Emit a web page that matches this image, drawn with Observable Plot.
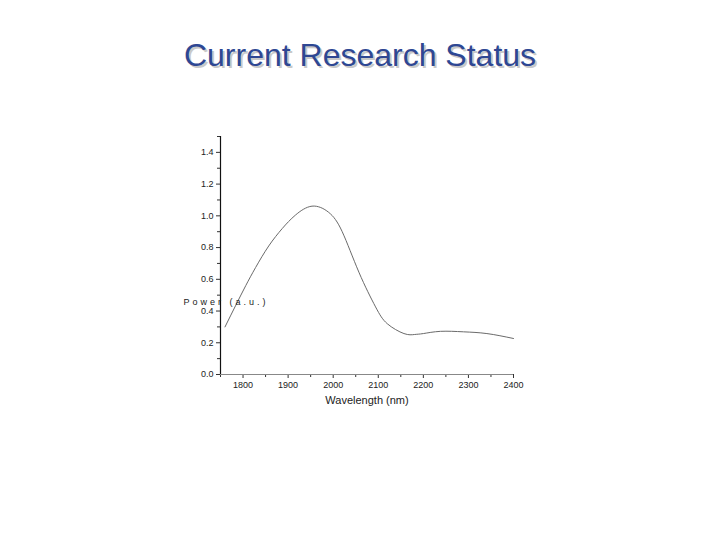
<!DOCTYPE html>
<html>
<head>
<meta charset="utf-8">
<script src="https://cdn.jsdelivr.net/npm/d3@7"></script>
<script src="https://cdn.jsdelivr.net/npm/@observablehq/plot@0.6"></script>
<style>
  html, body { margin: 0; padding: 0; background: #fff; }
  #wrap { position: relative; width: 720px; height: 540px; overflow: hidden; }
  #title { position: absolute; left: 0; top: 37px; width: 720px; text-align: center;
    font-family: "Liberation Sans", Arial, sans-serif; font-size: 32px; color: #2e4793;
    text-shadow: 2px 2px 0 #c9c9c9; }
  #chart { position: absolute; left: 0; top: 0; }
  .ylab text { letter-spacing: 3px; }
</style>
</head>
<body>
<div id="wrap">
  <div id="chart"></div>
  <div id="title"></div>
</div>
<script>
const titleText = "Current Research Status";
const xLabel = "Wavelength (nm)";
const yLabel = "Power (a.u.)";
const wavelength = [1760, 1784, 1806, 1828, 1857, 1887, 1916, 1953, 1990, 2020, 2057, 2094, 2120, 2157, 2180, 2200, 2238, 2289, 2341, 2400];
const intensity  = [0.30, 0.437, 0.56, 0.675, 0.81, 0.92, 1.004, 1.061, 1.022, 0.90, 0.645, 0.426, 0.32, 0.258, 0.252, 0.258, 0.272, 0.269, 0.258, 0.227];
const xMajor = [1800, 1900, 2000, 2100, 2200, 2300, 2400];
const xMinor = [1750, 1850, 1950, 2050, 2150, 2250, 2350];
const yMajor = [0, 0.2, 0.4, 0.6, 0.8, 1.0, 1.2, 1.4];
const yMinor = [0.1, 0.3, 0.5, 0.7, 0.9, 1.1, 1.3, 1.5];
const xDomain = [1750, 2400];
const yDomain = [0, 1.5];

document.getElementById("title").textContent = titleText;
const data = wavelength.map((w, i) => ({w, v: intensity[i]}));

const chart = Plot.plot({
  width: 720,
  height: 540,
  marginLeft: 220,
  marginRight: 207,
  marginTop: 136,
  marginBottom: 166,
  style: {fontFamily: "'Liberation Sans', Arial, sans-serif", fontSize: "9px", color: "#222", background: "transparent"},
  x: {domain: xDomain},
  y: {domain: yDomain},
  marks: [
    Plot.axisX({ticks: xMajor, tickSize: 4, tickPadding: 3, tickFormat: d => String(d), label: null, stroke: "#333"}),
    Plot.axisX({ticks: xMinor, tickSize: 3, text: null, label: null, stroke: "#333"}),
    Plot.axisY({ticks: yMajor, tickSize: 4, tickPadding: 3, tickFormat: d => d.toFixed(1), label: null, stroke: "#333"}),
    Plot.axisY({ticks: yMinor, tickSize: 3, text: null, label: null, stroke: "#333"}),
    Plot.ruleX(xDomain.slice(0, 1), {y1: yDomain[0], y2: yDomain[1], stroke: "#111", strokeWidth: 1.2}),
    Plot.ruleY(yDomain.slice(0, 1), {x1: xDomain[0], x2: xDomain[1], stroke: "#888", strokeWidth: 1}),
    Plot.line(data, {x: "w", y: "v", curve: "natural", stroke: "#6a6a6a", strokeWidth: 1}),
    Plot.text([xLabel], {frameAnchor: "bottom", dy: 29, fontSize: 11, fill: "#222", text: d => d}),
    Plot.text([yLabel], {frameAnchor: "left", textAnchor: "start", dx: -37, dy: 47, fontSize: 9, fill: "#222", text: d => d, className: "ylab"})
  ]
});
document.getElementById("chart").appendChild(chart);
</script>
</body>
</html>
